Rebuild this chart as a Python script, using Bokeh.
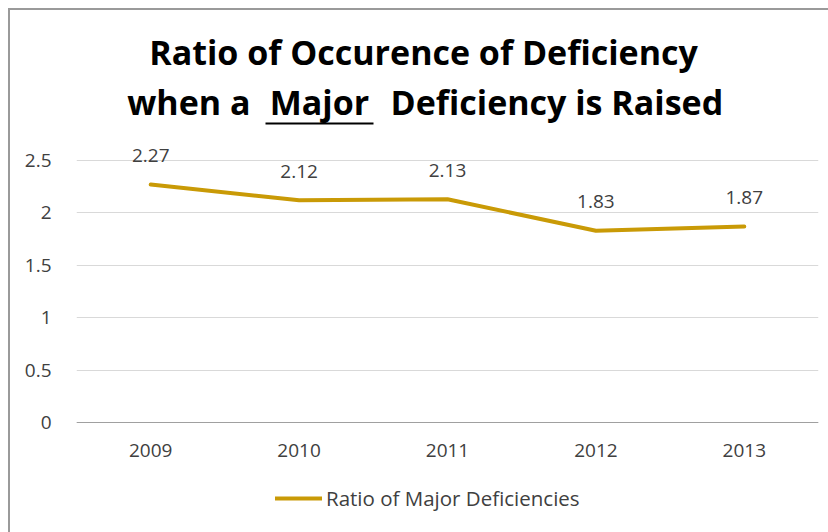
from bokeh.plotting import figure
from bokeh.models import (Range1d, FixedTicker, Label, Arrow, Legend, LegendItem,
                          ColumnDataSource)
from bokeh.core.properties import value
from bokeh.embed import file_html
from bokeh.resources import INLINE

# ---- data ----
years = ["2009", "2010", "2011", "2012", "2013"]
ratios = [2.27, 2.12, 2.13, 1.83, 1.87]
ratio_labels = ["2.27", "2.12", "2.13", "1.83", "1.87"]
y_ticks = [0, 0.5, 1, 1.5, 2, 2.5]
y_tick_labels = ["0", "0.5", "1", "1.5", "2", "2.5"]
series_name = "Ratio of Major Deficiencies"
title_line1 = "Ratio of Occurence of Deficiency"
title_line2 = ["when a", "Major", "Deficiency is Raised"]

FONT = "Open Sans"
GOLD = "#C99A06"
TXT = "#404040"

# ---- layout, in page pixels ----
OFF = 10                      # 8px margin + 2px border
FRAME_L, FRAME_R = 76, 818    # plot frame, page x
FRAME_T, FRAME_B = OFF, 532   # frame spans title, plot and legend area
ZERO_Y = 422                  # value-0 line, page y
GRID_PX = 262                 # px from value 0 to value 2.5
ML, MR = FRAME_L - OFF, 10
FW, FH = FRAME_R - FRAME_L, FRAME_B - FRAME_T
N = len(years)


def px_x(px):   # page x -> x data
    return (px - FRAME_L) / FW * N - 0.5


def px_y(py):   # page y -> y data
    return (ZERO_Y - py) / GRID_PX * 2.5


xs = list(range(N))
src = ColumnDataSource(dict(x=xs, y=ratios, lab=ratio_labels))

p = figure(frame_width=FW, frame_height=FH, output_backend="svg",
           toolbar_location=None,
           x_range=Range1d(-0.5, N - 0.5),
           y_range=Range1d(px_y(FRAME_B), px_y(FRAME_T)),
           min_border_left=ML, min_border_right=MR, min_border_top=0,
           min_border_bottom=0, margin=(8, 0, 0, 8),
           styles={"border-left": "2px solid #9A9A9A",
                   "border-top": "2px solid #9A9A9A"})
p.outline_line_color = None
p.background_fill_color = "white"
p.border_fill_color = "white"

# axes (category axis sits on the value-0 line)
p.xaxis.fixed_location = 0
p.xaxis.ticker = FixedTicker(ticks=xs)
p.xaxis.major_label_overrides = {i: y for i, y in enumerate(years)}
p.xaxis.axis_line_color = "#A0A0A0"
p.xaxis.axis_line_width = 1
p.xaxis.major_tick_line_color = None
p.xaxis.minor_tick_line_color = None
p.xaxis.major_label_standoff = 15
p.xaxis.major_label_text_font = FONT
p.xaxis.major_label_text_font_size = "19px"
p.xaxis.major_label_text_color = TXT

p.yaxis.ticker = FixedTicker(ticks=y_ticks)
p.yaxis.major_label_overrides = {t: l for t, l in zip(y_ticks, y_tick_labels)}
p.yaxis.axis_line_color = None
p.yaxis.major_tick_line_color = None
p.yaxis.minor_tick_line_color = None
p.yaxis.major_label_standoff = 19
p.yaxis.major_label_text_font = FONT
p.yaxis.major_label_text_font_size = "19px"
p.yaxis.major_label_text_color = TXT

p.xgrid.grid_line_color = None
p.ygrid.ticker = FixedTicker(ticks=y_ticks)
p.ygrid.grid_line_color = "#D9D9D9"
p.ygrid.grid_line_width = 1

# series
ln = p.line("x", "y", source=src, line_color=GOLD, line_width=4,
            line_cap="round", line_join="round")
p.text("x", "y", text="lab", source=src, text_font=value(FONT),
       text_font_size="19px", text_color=TXT, text_align="center",
       text_baseline="alphabetic", y_offset=-29)

# legend (bottom-left corner given in px from the frame's bottom-left)
leg = Legend(items=[LegendItem(label=series_name, renderers=[ln])],
             location=(275 - FRAME_L, FRAME_B - 512), orientation="horizontal",
             glyph_width=47, glyph_height=20, label_height=20,
             label_standoff=4, padding=0, margin=0, spacing=0,
             border_line_color=None, background_fill_alpha=0,
             label_text_font=FONT, label_text_font_size="20.5px",
             label_text_color=TXT)
p.add_layout(leg, "center")

# title, inside the (extended) frame
tkw = dict(text_font=FONT, text_font_style="bold", text_font_size="34px",
           text_color="black", text_baseline="alphabetic")
p.add_layout(Label(x=px_x(423), y=px_y(51), text=title_line1,
                   text_align="center", **tkw))
p.add_layout(Label(x=px_x(250), y=px_y(101), text=title_line2[0],
                   text_align="right", **tkw))
p.add_layout(Label(x=px_x(319), y=px_y(101), text=title_line2[1],
                   text_align="center", **tkw))
p.add_layout(Label(x=px_x(390), y=px_y(101), text=title_line2[2],
                   text_align="left", **tkw))
# underline of "Major"
p.add_layout(Arrow(end=None, x_start=px_x(265), y_start=px_y(123),
                   x_end=px_x(373), y_end=px_y(123),
                   line_color="black", line_width=2))

open("out.html", "w").write(file_html(p, INLINE))
